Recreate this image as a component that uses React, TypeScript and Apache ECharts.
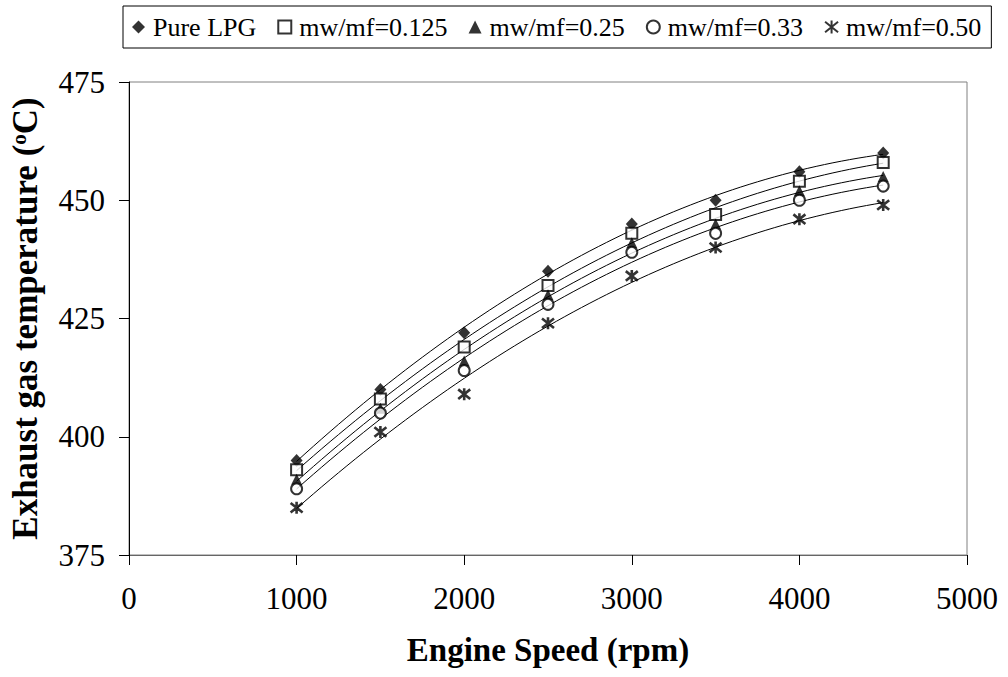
import React, { useEffect, useRef } from "react";
import * as echarts from "echarts";

const speeds = [1000, 1500, 2000, 2500, 3000, 3500, 4000, 4500];
const pureLPG = [395, 410, 422, 435, 445, 450, 456, 460];
const mw0125 = [393, 408, 419, 432, 443, 447, 454, 458];
const mw025 = [391, 406, 416, 430, 441, 445, 452, 455];
const mw033 = [389, 405, 414, 428, 439, 443, 450, 453];
const mw050 = [385, 401, 409, 424, 434, 440, 446, 449];

const seriesNames = ["Pure LPG", "mw/mf=0.125", "mw/mf=0.25", "mw/mf=0.33", "mw/mf=0.50"];
const xTicks = [0, 1000, 2000, 3000, 4000, 5000];
const yTicks = [375, 400, 425, 450, 475];

const FONT = '"Liberation Serif", "Times New Roman", serif';
const STAR = "path://M0,1L10,9M10,1L0,9M5,0L5,10";

// Second-order polynomial trendline (least squares), as in the original spreadsheet chart
function quadFit(xs: number[], ys: number[]) {
  const n = xs.length;
  let s1 = 0, s2 = 0, s3 = 0, s4 = 0, t0 = 0, t1 = 0, t2 = 0;
  for (let i = 0; i < n; i++) {
    const x = xs[i] / 1000;
    const y = ys[i];
    s1 += x; s2 += x * x; s3 += x * x * x; s4 += x * x * x * x;
    t0 += y; t1 += x * y; t2 += x * x * y;
  }
  const m = [
    [n, s1, s2, t0],
    [s1, s2, s3, t1],
    [s2, s3, s4, t2],
  ];
  for (let c = 0; c < 3; c++) {
    for (let r = c + 1; r < 3; r++) {
      const f = m[r][c] / m[c][c];
      for (let k = c; k < 4; k++) m[r][k] -= f * m[c][k];
    }
  }
  const coef = [0, 0, 0];
  for (let r = 2; r >= 0; r--) {
    let s = m[r][3];
    for (let k = r + 1; k < 3; k++) s -= m[r][k] * coef[k];
    coef[r] = s / m[r][r];
  }
  return (xv: number) => {
    const x = xv / 1000;
    return coef[0] + coef[1] * x + coef[2] * x * x;
  };
}

function trendData(ys: number[]) {
  const f = quadFit(speeds, ys);
  const out: number[][] = [];
  const x0 = speeds[0];
  const x1 = speeds[speeds.length - 1];
  const steps = 70;
  for (let i = 0; i <= steps; i++) {
    const x = x0 + ((x1 - x0) * i) / steps;
    out.push([x, f(x)]);
  }
  return out;
}

export default function App() {
  const ref = useRef<HTMLDivElement>(null);

  useEffect(() => {
    if (!ref.current) return;
    const chart = echarts.init(ref.current, undefined, { renderer: "svg" });

    const allData = [pureLPG, mw0125, mw025, mw033, mw050];
    const markerStyles: any[] = [
      { symbol: "diamond", symbolSize: [12, 13], itemStyle: { color: "#000" } },
      { symbol: "rect", symbolSize: 11, itemStyle: { color: "#fff", borderColor: "#000", borderWidth: 2 } },
      { symbol: "triangle", symbolSize: 11, itemStyle: { color: "#000" } },
      { symbol: "circle", symbolSize: 11, itemStyle: { color: "#fff", borderColor: "#000", borderWidth: 2 } },
      { symbol: STAR, symbolSize: 12, itemStyle: { color: "#000", borderColor: "#000", borderWidth: 2.6 } },
    ];

    const series: any[] = [];
    allData.forEach((ys, i) => {
      series.push({
        name: seriesNames[i] + " trend",
        type: "line",
        data: trendData(ys),
        showSymbol: false,
        symbol: "none",
        silent: true,
        lineStyle: { color: "#000", width: 1 },
        z: 2,
      });
    });
    allData.forEach((ys, i) => {
      series.push({
        name: seriesNames[i],
        type: "scatter",
        data: speeds.map((x, j) => [x, ys[j]]),
        symbolKeepAspect: true,
        ...markerStyles[i],
        z: 5,
      });
    });

    chart.setOption({
      animation: false,
      backgroundColor: "#fff",
      grid: {
        left: 129,
        right: 41,
        top: 82,
        bottom: 122,
        show: true,
        borderColor: "#808080",
        borderWidth: 1,
        backgroundColor: "transparent",
      },
      legend: {
        data: seriesNames,
        left: 123,
        top: 6,
        orient: "horizontal",
        padding: [8, 10, 8, 9],
        itemGap: 21,
        itemWidth: 13,
        itemHeight: 13,
        borderColor: "#000",
        borderWidth: 1,
        backgroundColor: "#fff",
        textStyle: { fontFamily: FONT, fontSize: 26, color: "#000", padding: [0, 0, 0, 3] },
      },
      xAxis: {
        type: "value",
        min: xTicks[0],
        max: xTicks[xTicks.length - 1],
        interval: 1000,
        name: "Engine Speed (rpm)",
        nameLocation: "middle",
        nameGap: 78,
        nameTextStyle: { fontFamily: FONT, fontSize: 33, fontWeight: "bold", color: "#000" },
        axisLine: { show: true, onZero: false, lineStyle: { color: "#666", width: 1 } },
        axisTick: { show: true, inside: false, length: 10, lineStyle: { color: "#000" } },
        axisLabel: {
          fontFamily: FONT,
          fontSize: 31,
          color: "#000",
          margin: 28,
          formatter: (v: number) => String(v),
        },
        splitLine: { show: false },
      },
      yAxis: {
        type: "value",
        min: yTicks[0],
        max: yTicks[yTicks.length - 1],
        interval: 25,
        name: "Exhaust gas temperature ({sup|o}C)",
        nameLocation: "middle",
        nameGap: 86,
        nameRotate: 90,
        nameTextStyle: {
          fontFamily: FONT,
          fontSize: 35,
          fontWeight: "bold",
          color: "#000",
          rich: {
            sup: {
              fontFamily: FONT,
              fontSize: 21,
              fontWeight: "bold",
              color: "#000",
              verticalAlign: "top",
              lineHeight: 35,
            },
          },
        },
        axisLine: { show: true, onZero: false, lineStyle: { color: "#000", width: 1 } },
        axisTick: { show: true, inside: false, length: 10, lineStyle: { color: "#000" } },
        axisLabel: {
          fontFamily: FONT,
          fontSize: 31,
          color: "#000",
          margin: 24,
          formatter: (v: number) => String(v),
        },
        splitLine: { show: false },
      },
      series,
    });

    return () => chart.dispose();
  }, []);

  return (
    <div
      ref={ref}
      style={{ position: "absolute", left: 0, top: 0, width: 1008, height: 677 }}
    />
  );
}
